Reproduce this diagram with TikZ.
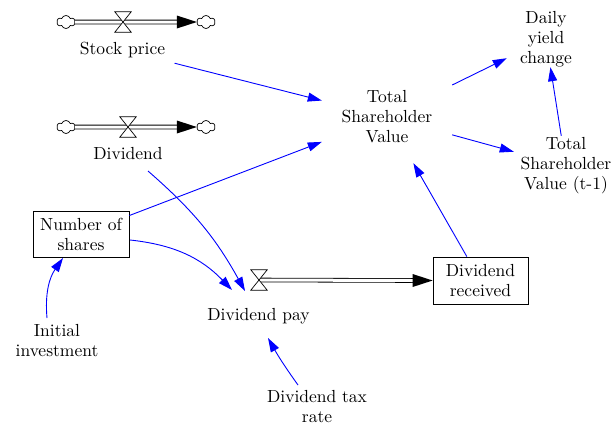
\documentclass[tikz,border=0pt]{standalone}
\usepackage{fontspec}
\newfontfamily\vfont{lmroman10-regular.otf}
\usetikzlibrary{arrows.meta,shapes.symbols,calc}
\begin{document}
\begin{tikzpicture}[x=1bp,y=-1bp,
  every node/.style={font=\vfont\fontsize{17.5bp}{20bp}\selectfont, align=center, inner sep=0pt},
  lvl/.style={draw, line width=0.8bp},
  link/.style={draw=blue, line width=0.9bp, -{Triangle[length=14bp,width=9bp,fill=blue]}},
  pipe/.style={draw=black, double=white, double distance=3bp, line width=0.8bp},
  cloudy/.style={cloud, cloud puffs=6, cloud puff arc=140, aspect=1.4, draw, line width=0.7bp, minimum width=18bp, minimum height=13bp, inner sep=0pt},
  valveshape/.style={minimum width=16bp, minimum height=20bp, inner sep=0pt},
  valvedraw/.style={fill=white, draw=black, line width=0.7bp},
  flowhead/.style={fill=black}
]
\useasboundingbox (0,0) rectangle (614,427);

% --- Stock price flow
\node[cloudy] (c1) at (66,22) {};
\node[cloudy] (c2) at (206,22) {};
\node[valveshape] (v1) at (123,22) {};
\draw[pipe] (c1.east) -- ($(c2.west)+(-19,0)$);
\fill[flowhead] (c2.west) -- ++(-20,-6.5) -- ++(0,13) -- cycle;
\filldraw[valvedraw] (v1.north west) -- (v1.north east) -- (v1.south west) -- (v1.south east) -- cycle;
\node[minimum width=110bp, minimum height=26bp] (sp) at (122.5,50) {Stock price};

% --- Dividend flow
\node[cloudy] (c3) at (66,127) {};
\node[cloudy] (c4) at (206,127) {};
\node[valveshape] (v2) at (128,127) {};
\draw[pipe] (c3.east) -- ($(c4.west)+(-19,0)$);
\fill[flowhead] (c4.west) -- ++(-20,-6.5) -- ++(0,13) -- cycle;
\filldraw[valvedraw] (v2.north west) -- (v2.north east) -- (v2.south west) -- (v2.south east) -- cycle;
\node (dv) at (128,154) {Dividend};

% --- Variables
\node[minimum width=130bp, minimum height=92bp] (tsv) at (387,117) {Total\\Shareholder\\Value};
\node[minimum width=78bp, minimum height=56bp] (dyc) at (546,39) {Daily\\yield\\change};
\node[minimum width=104bp, minimum height=60bp] (tsv1) at (566,166) {Total\\Shareholder\\Value (t-1)};
\node[lvl, minimum width=96bp, minimum height=46bp] (nos) at (81,234) {Number of\\shares};
\node[lvl, minimum width=95bp, minimum height=47bp] (dr) at (480.5,280.5) {Dividend\\received};
\node (ii) at (57,341) {Initial\\investment};
\node (tx) at (317,407) {Dividend tax\\rate};

% --- Dividend pay flow
\node[valveshape] (v3) at (259,280) {};
\draw[pipe] (v3.center) -- ($(dr.west)+(-19,0)$);
\fill[flowhead] (dr.west) -- ++(-20,-6.5) -- ++(0,13) -- cycle;
\filldraw[valvedraw] (v3.north west) -- (v3.north east) -- (v3.south west) -- (v3.south east) -- cycle;
\node (dp) at (258.5,316) {Dividend pay};

% --- Links
\draw[link] (sp) -- (tsv);
\draw[link] (nos) -- (tsv);
\draw[link] (tsv) -- (dyc);
\draw[link] (tsv) -- (tsv1);
\draw[link] (tsv1) -- (dyc);
\draw[link] (dr) -- (tsv);
\draw[link] ($(dv)+(20,17)$) to[bend left=10] ($(dp)+(-13.5,-25)$);
\draw[link] ($(nos)+(49,6)$) to[bend left=20] ($(dp)+(-26.5,-26)$);
\draw[link] ($(ii)+(-10,-23)$) to[bend left=20] ($(nos)+(-18,24)$);
\draw[link] ($(tx)+(-19,-22)$) to[bend left=3] ($(dp)+(9.5,22)$);
\end{tikzpicture}
\end{document}
